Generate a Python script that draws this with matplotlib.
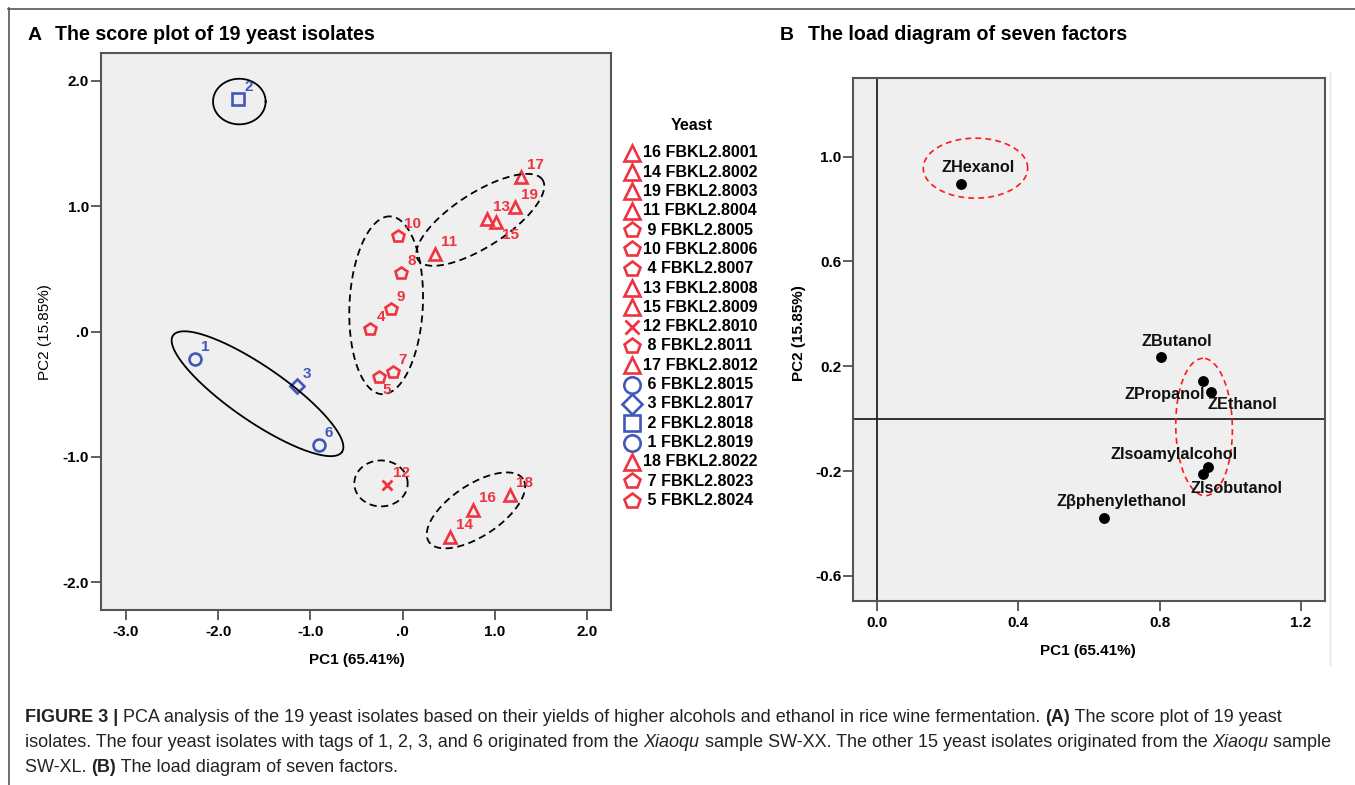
import numpy as np
import matplotlib
matplotlib.use("Agg")
import matplotlib.pyplot as plt
from matplotlib.lines import Line2D

plt.rcParams['font.family'] = ['Liberation Sans', 'DejaVu Sans']

# ---------------- data ----------------
isolate_tags = [16, 14, 19, 11, 9, 10, 4, 13, 15, 12, 8, 17, 6, 3, 2, 1, 18, 7, 5]
strain_names = ['FBKL2.8001', 'FBKL2.8002', 'FBKL2.8003', 'FBKL2.8004', 'FBKL2.8005',
                'FBKL2.8006', 'FBKL2.8007', 'FBKL2.8008', 'FBKL2.8009', 'FBKL2.8010',
                'FBKL2.8011', 'FBKL2.8012', 'FBKL2.8015', 'FBKL2.8017', 'FBKL2.8018',
                'FBKL2.8019', 'FBKL2.8022', 'FBKL2.8023', 'FBKL2.8024']
pc1_scores = [0.76, 0.51, 1.215, 0.35, -0.13, -0.054, -0.35, 0.915, 1.01, -0.17,
              -0.017, 1.28, -0.907, -1.145, -1.78, -2.25, 1.165, -0.108, -0.26]
pc2_scores = [-1.426, -1.638, 0.99, 0.617, 0.178, 0.765, 0.019, 0.90, 0.87, -1.227,
              0.465, 1.235, -0.903, -0.435, 1.85, -0.22, -1.30, -0.321, -0.364]
shape_group = ['tri', 'tri', 'tri', 'tri', 'pent', 'pent', 'pent', 'tri', 'tri', 'cross',
               'pent', 'tri', 'circ', 'diam', 'sq', 'circ', 'tri', 'pent', 'pent']

factor_names = ['ZHexanol', 'ZButanol', 'ZPropanol', 'ZEthanol',
                'ZIsoamylalcohol', 'ZIsobutanol', 'Zβphenylethanol']
load_pc1 = [0.238, 0.803, 0.922, 0.946, 0.936, 0.924, 0.643]
load_pc2 = [0.895, 0.234, 0.145, 0.103, -0.186, -0.212, -0.378]

a_xticks = [-3.0, -2.0, -1.0, 0.0, 1.0, 2.0]
a_xticklabels = ['-3.0', '-2.0', '-1.0', '.0', '1.0', '2.0']
a_yticks = [-2.0, -1.0, 0.0, 1.0, 2.0]
a_yticklabels = ['-2.0', '-1.0', '.0', '1.0', '2.0']
b_xticks = [0.0, 0.4, 0.8, 1.2]
b_xticklabels = ['0.0', '0.4', '0.8', '1.2']
b_yticks = [-0.6, -0.2, 0.2, 0.6, 1.0]
b_yticklabels = ['-0.6', '-0.2', '0.2', '0.6', '1.0']

# ---------------- styles ----------------
W, H = 1355, 785
RED = '#ef3340'
BLUE = '#4258b8'
BG = '#efefef'
SPINE = '#555555'
blue_groups = {'circ', 'diam', 'sq'}
mk = {'tri': '^', 'pent': 'p', 'cross': 'x', 'circ': 'o', 'diam': 'D', 'sq': 's'}
ms_plot = {'tri': 8.6, 'pent': 8.8, 'cross': 7.2, 'circ': 8.6, 'diam': 6.9, 'sq': 8.2}
ms_leg = {'tri': 11.5, 'pent': 11.5, 'cross': 9.5, 'circ': 11.8, 'diam': 10.2, 'sq': 11.0}


def fx(px):
    return px / W


def fy(py):
    return 1 - py / H


fig = plt.figure(figsize=(W / 100, H / 100), dpi=100)

# outer border (top and left)
fig.add_artist(Line2D([fx(8), fx(1355)], [fy(8.5), fy(8.5)], color='#555555', lw=1.2,
                      transform=fig.transFigure))
fig.add_artist(Line2D([fx(8.5), fx(8.5)], [fy(8), fy(785)], color='#555555', lw=1.2,
                      transform=fig.transFigure))


def style_axes(ax):
    ax.set_facecolor(BG)
    for s in ax.spines.values():
        s.set_color(SPINE)
        s.set_linewidth(1.5)
    ax.tick_params(direction='out', length=7.5, width=1.1, color='#333333',
                   labelsize=11, top=False, right=False)
    ax.tick_params(axis='y', pad=1)
    ax.tick_params(axis='x', pad=3.5)


def draw_ellipse(ax, cx, cy, a, b, ang, **kw):
    t = np.linspace(0, 2 * np.pi, 300)
    px, py = ax.transData.transform((cx, cy))
    th = np.deg2rad(ang)
    ex, ey = a * np.cos(t), b * np.sin(t)
    X = px + ex * np.cos(th) - ey * np.sin(th)
    Y = py + ex * np.sin(th) + ey * np.cos(th)
    d = ax.transData.inverted().transform(np.column_stack([X, Y]))
    ax.plot(d[:, 0], d[:, 1], **kw)


# ---------------- panel A ----------------
axA = fig.add_axes([fx(101), fy(610), (611 - 101) / W, (610 - 53) / H])
axA.set_xlim(-3.27, 2.26)
axA.set_ylim(-2.22, 2.22)
style_axes(axA)
axA.set_xticks(a_xticks, a_xticklabels, fontweight='bold')
axA.set_yticks(a_yticks, a_yticklabels, fontweight='bold')

below = {15: (6, -13), 5: (4, -13)}
for tag, x, y, g in zip(isolate_tags, pc1_scores, pc2_scores, shape_group):
    c = BLUE if g in blue_groups else RED
    if g == 'cross':
        axA.plot(x, y, marker='x', ms=ms_plot[g], mec=c, mew=2.0, ls='none')
    else:
        axA.plot(x, y, marker=mk[g], ms=ms_plot[g], mfc='none', mec=c, mew=1.9, ls='none')
    off = below.get(tag, (6, 12))
    axA.annotate(str(tag), (x, y), xytext=off, textcoords='offset pixels',
                 ha='left', va='center', color=c, fontsize=11, fontweight='bold')

fig.canvas.draw()
ell_kw_solid = dict(color='black', lw=1.3, ls='-')
ell_kw_dash = dict(color='black', lw=1.3, ls=(0, (4, 2.5)))
draw_ellipse(axA, -1.77, 1.833, 26.3, 22.8, 0, **ell_kw_solid)
draw_ellipse(axA, -1.573, -0.496, 102.6, 27.3, -34.6, **ell_kw_solid)
draw_ellipse(axA, -0.178, 0.209, 89, 36.7, 87.3, **ell_kw_dash)
draw_ellipse(axA, 0.843, 0.89, 74, 27, 32.7, **ell_kw_dash)
draw_ellipse(axA, -0.234, -1.211, 26.7, 23, 0, **ell_kw_dash)
draw_ellipse(axA, 0.796, -1.426, 56.6, 25.7, 33.7, **ell_kw_dash)

fig.text(fx(356.5), fy(660), 'PC1 (65.41%)', ha='center', va='center',
         fontsize=11, fontweight='bold')
fig.text(fx(45), fy(332), 'PC2 (15.85%)', ha='center', va='center',
         fontsize=11, rotation=90)

# legend (manual)
fig.text(fx(691.7), fy(125), 'Yeast', ha='center', va='center', fontsize=11.5,
         fontweight='bold')
for i, (tag, name, g) in enumerate(zip(isolate_tags, strain_names, shape_group)):
    yy = 152.7 + i * 19.33
    c = BLUE if g in blue_groups else RED
    if g == 'cross':
        fig.add_artist(Line2D([fx(632.3)], [fy(yy)], marker='x', ms=ms_leg[g], mec=c,
                              mew=2.0, ls='none', transform=fig.transFigure))
    else:
        fig.add_artist(Line2D([fx(632.3)], [fy(yy)], marker=mk[g], ms=ms_leg[g],
                              mfc='none', mec=c, mew=1.9, ls='none',
                              transform=fig.transFigure))
    label = f'{tag} {name}' if tag >= 10 else f' {tag} {name}'
    fig.text(fx(643.3), fy(yy), label, ha='left', va='center', fontsize=11.6,
             fontweight='bold')

# ---------------- panel B ----------------
axB = fig.add_axes([fx(853.3), fy(600.7), (1325 - 853.3) / W, (600.7 - 78.3) / H])
axB.set_xlim(-0.066, 1.268)
axB.set_ylim(-0.695, 1.299)
style_axes(axB)
axB.set_xticks(b_xticks, b_xticklabels, fontweight='bold')
axB.set_yticks(b_yticks, b_yticklabels, fontweight='bold')
axB.axvline(0, color='#222222', lw=1.3, zorder=1)
axB.axhline(0, color='#222222', lw=1.3, zorder=1)
axB.plot(load_pc1, load_pc2, 'o', color='black', ms=6.8, ls='none', zorder=3)
b_offsets = [(17, 17), (16, 16), (-38, -14), (31, -13), (-34, 13), (33, -14), (17, 16)]
for name, x, y, off in zip(factor_names, load_pc1, load_pc2, b_offsets):
    axB.annotate(name, (x, y), xytext=off, textcoords='offset pixels', ha='center',
                 va='center', fontsize=11.7, fontweight='bold', color='#111111', zorder=4)

fig.canvas.draw()
red_dash = dict(color='#ff1a1a', lw=1.2, ls=(0, (3.5, 2.5)))
draw_ellipse(axB, 0.2795, 0.956, 52.2, 30, 0, **red_dash)
draw_ellipse(axB, 0.926, -0.032, 68.7, 28.3, 91, **red_dash)

fig.text(fx(1088), fy(651), 'PC1 (65.41%)', ha='center', va='center',
         fontsize=11, fontweight='bold')
fig.text(fx(799), fy(333), 'PC2 (15.85%)', ha='center', va='center',
         fontsize=11, fontweight='bold', rotation=90)

# faint right edge of panel B image
fig.add_artist(Line2D([fx(1330), fx(1330)], [fy(72), fy(665)], color='#e4e4e4', lw=1,
                      transform=fig.transFigure))

# ---------------- titles ----------------
fig.text(fx(28), fy(40.5), 'A', ha='left', va='baseline', fontsize=14, fontweight='bold')
fig.text(fx(55), fy(40.5), 'The score plot of 19 yeast isolates', ha='left',
         va='baseline', fontsize=14.1, fontweight='bold')
fig.text(fx(780), fy(40.5), 'B', ha='left', va='baseline', fontsize=14, fontweight='bold')
fig.text(fx(808), fy(40.5), 'The load diagram of seven factors', ha='left',
         va='baseline', fontsize=14.1, fontweight='bold')

# ---------------- caption ----------------
cap_lines = [
    [('FIGURE 3 | ', 'bold', 'normal'),
     ('PCA analysis of the 19 yeast isolates based on their yields of higher alcohols and '
      'ethanol in rice wine fermentation. ', 'normal', 'normal'),
     ('(A)', 'bold', 'normal'),
     (' The score plot of 19 yeast', 'normal', 'normal')],
    [('isolates. The four yeast isolates with tags of 1, 2, 3, and 6 originated from the ',
      'normal', 'normal'),
     ('Xiaoqu', 'normal', 'italic'),
     (' sample SW-XX. The other 15 yeast isolates originated from the ', 'normal', 'normal'),
     ('Xiaoqu', 'normal', 'italic'),
     (' sample', 'normal', 'normal')],
    [('SW-XL. ', 'normal', 'normal'),
     ('(B)', 'bold', 'normal'),
     (' The load diagram of seven factors.', 'normal', 'normal')],
]
renderer = fig.canvas.get_renderer()


def seg_width(txt, size, weight, style):
    t1 = fig.text(0, 0, 'X' + txt + 'X', fontsize=size, fontweight=weight, fontstyle=style)
    t2 = fig.text(0, 0, 'XX', fontsize=size, fontweight=weight, fontstyle=style)
    w = t1.get_window_extent(renderer).width - t2.get_window_extent(renderer).width
    t1.remove()
    t2.remove()
    return w


base = 12.0
w2 = sum(seg_width(t, base, wgt, st) for t, wgt, st in cap_lines[1])
cap_size = base * (1335 - 25) / w2
baselines = [721.7, 746.7, 771.7]
for line, yb in zip(cap_lines, baselines):
    x = 25.0
    for txt, wgt, st in line:
        fig.text(fx(x), fy(yb), txt, ha='left', va='baseline', fontsize=cap_size,
                 fontweight=wgt, fontstyle=st, color='#222222')
        x += seg_width(txt, cap_size, wgt, st)

fig.savefig('out.png', dpi=100)
